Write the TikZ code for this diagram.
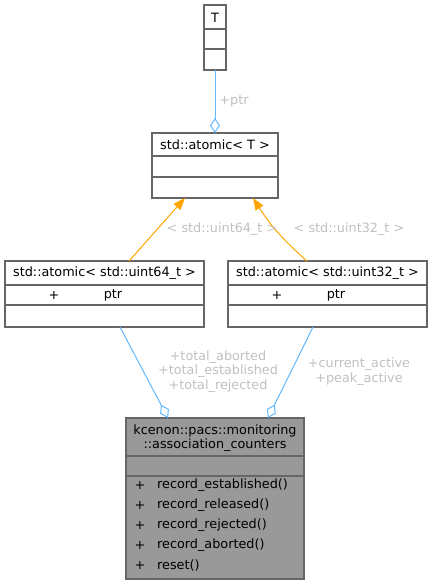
\documentclass[tikz,border=0pt]{standalone}
\usepackage{fontspec}
\setmainfont{DejaVu Sans}
\usetikzlibrary{arrows.meta}
\definecolor{boxline}{HTML}{666666}
\definecolor{mainfill}{HTML}{999999}
\definecolor{edgeblue}{HTML}{63B8FF}
\definecolor{edgeorange}{HTML}{FFA500}
\definecolor{lblgray}{HTML}{C0C0C0}
\begin{document}
\begin{tikzpicture}[x=1pt,y=-1pt,
  font=\fontsize{12.8}{13.6}\selectfont,
  box/.style={draw=boxline, line width=1.1pt, fill=white, anchor=north west, inner sep=0pt, outer sep=0pt},
  mainbox/.style={box, fill=mainfill},
  rowline/.style={draw=boxline, line width=1.1pt},
  txt/.style={inner sep=0pt, anchor=center},
  lbl/.style={inner sep=0pt, text=lblgray, align=center},
  assoc/.style={draw=edgeblue, line width=1pt, -{Diamond[open, length=15pt, width=10pt, line width=1pt]}},
  inherit/.style={draw=edgeorange, line width=1pt, -{Triangle[length=12pt, width=9pt]}}
]
\useasboundingbox (0,0) rectangle (432,584);

% T
\node[box, minimum width=22pt, minimum height=65pt] (T) at (204,5) {};
\draw[rowline] (204,29) -- (226,29);
\draw[rowline] (204,49) -- (226,49);
\node[txt] (Tt) at (215,17.5) {T};

% std::atomic< T >
\node[box, minimum width=126pt, minimum height=65pt] (aT) at (152,133) {};
\draw[rowline] (152,156) -- (278,156);
\draw[rowline] (152,177) -- (278,177);
\node[txt] (aTt) at (215,145) {std::atomic< T >};

% uint64
\node[box, minimum width=199pt, minimum height=66pt] (u64) at (5,261) {};
\draw[rowline] (5,285) -- (204,285);
\draw[rowline] (5,305) -- (204,305);
\node[txt] (u64t) at (104.5,273) {std::atomic< std::uint64\_t >};
\node[txt] (u64p) at (54,295) {+};
\node[txt] (u64r) at (113,295) {ptr};

% uint32
\node[box, minimum width=199pt, minimum height=66pt] (u32) at (228,261) {};
\draw[rowline] (228,285) -- (427,285);
\draw[rowline] (228,305) -- (427,305);
\node[txt] (u32t) at (327.5,273) {std::atomic< std::uint32\_t >};
\node[txt] (u32p) at (277,295) {+};
\node[txt] (u32r) at (336,295) {ptr};

% main
\node[mainbox, minimum width=178pt, minimum height=161pt] (main) at (126,418) {};
\draw[rowline] (126,456) -- (304,456);
\draw[rowline] (126,476) -- (304,476);
\node[txt] (m1) at (215,431) {kcenon::pacs::monitoring};
\node[txt] (m2) at (215,445) {::association\_counters};
\foreach \y/\n in {485/record\_established(), 505/record\_released(), 525/record\_rejected(), 545/record\_aborted(), 565/reset()}{
  \node[txt] at (140,\y) {+};
  \node[inner sep=0pt, anchor=west] at (157,\y) {\n};
}

% edges
\draw[assoc] (T.south) -- (aT.north);
\node[lbl] (lptr) at (234,101) {+ptr};

\draw[inherit] ([xshift=124pt]u64.north west) -- ([xshift=33pt]aT.south west);
\draw[inherit] ([xshift=79pt]u32.north west) to[bend left=8] ([xshift=101pt]aT.south west);
\node[lbl] (l64) at (222,229) {< std::uint64\_t >};
\node[lbl] (l32) at (349,229) {< std::uint32\_t >};

\draw[assoc] ([xshift=115pt]u64.south west) -- ([xshift=42pt]main.north west);
\draw[assoc] ([xshift=85pt]u32.south west) -- ([xshift=142pt]main.north west);
\node[lbl] (la) at (218,357) {+total\_aborted};
\node[lbl] (lb) at (218,371.5) {+total\_established};
\node[lbl] (lc) at (218,386) {+total\_rejected};
\node[lbl] (ld) at (359,364.5) {+current\_active};
\node[lbl] (le) at (359,379) {+peak\_active};
\end{tikzpicture}
\end{document}
